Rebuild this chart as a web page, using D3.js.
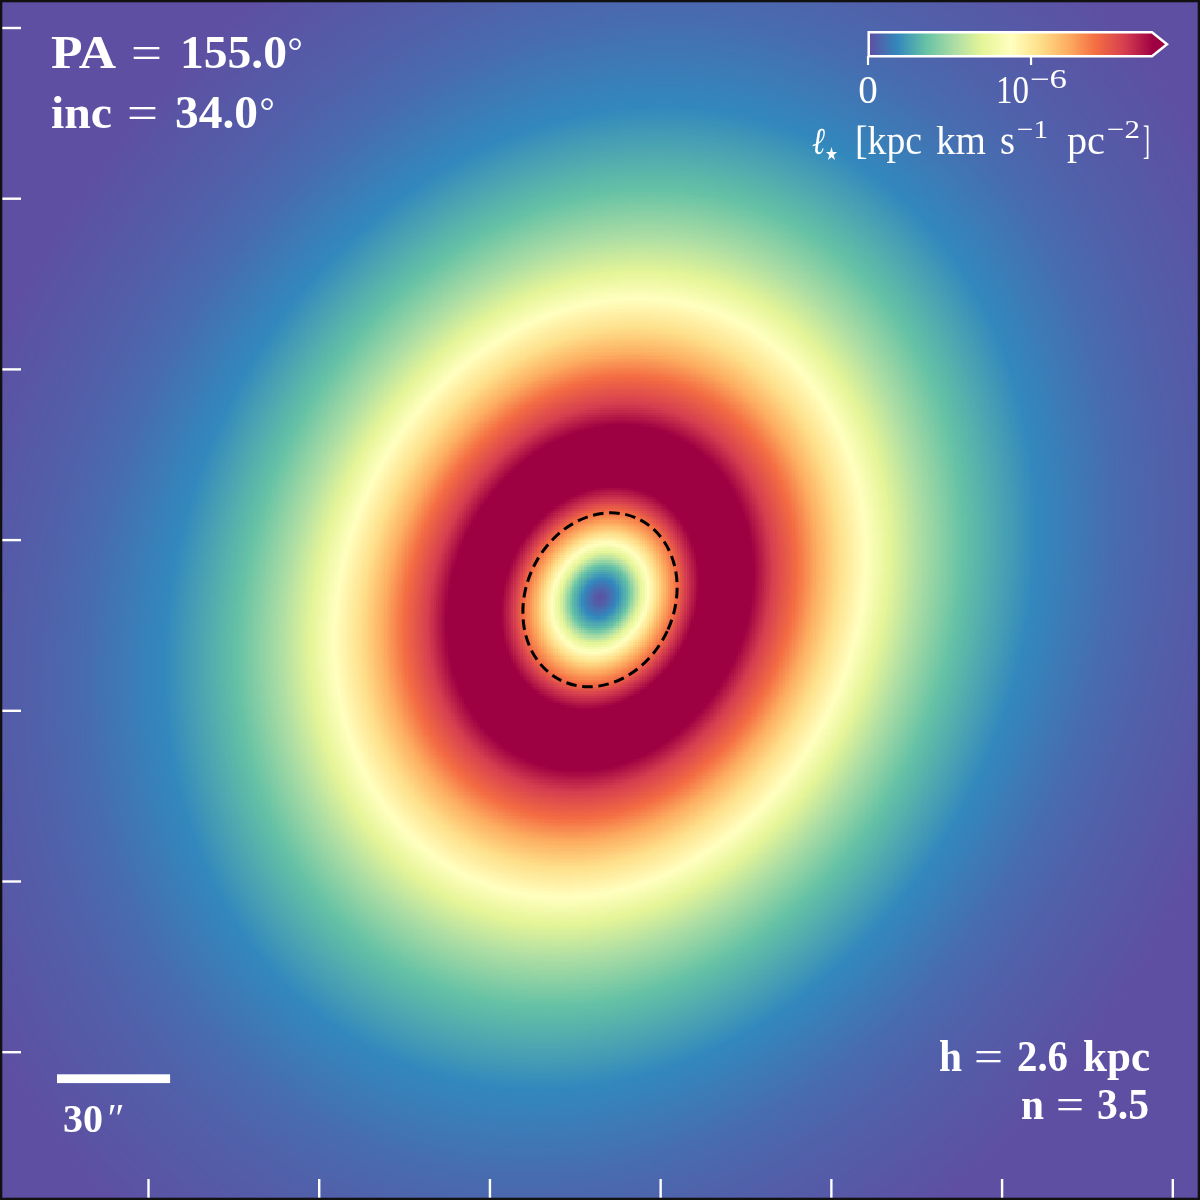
<!DOCTYPE html>
<html><head><meta charset="utf-8">
<script src="https://cdn.jsdelivr.net/npm/d3@7"></script>
<style>
html,body{margin:0;padding:0;background:#fff}
#wrap{position:relative;width:1200px;height:1200px;overflow:hidden}
canvas{position:absolute;left:0;top:0;width:1200px;height:1200px;image-rendering:pixelated}
svg{position:absolute;left:0;top:0}
text{font-family:"Liberation Serif",serif;fill:#fff}
</style></head><body><div id="wrap"><canvas id="map" width="512" height="512"></canvas><svg id="chart" width="1200" height="1200"></svg></div>
<script>
// --- data ---
const paDeg = 155.0, incDeg = 34.0;
// elliptical radius along the major axis (arcsec)
const profileRadius = [0,2.1,5.3,8.8,10.6,12.5,14.9,17.5,20.2,23.6,26.5,30.5,38.5,47.2,53.0,60.5,66.8,73.7,81.7,88.9,98.7,111.4,134.2,158.6,174,209.5];
// stellar angular momentum surface density (1e-6 kpc km/s/pc^2)
const profileValue = [0,0.052,0.174,0.348,0.523,0.697,0.871,1.045,1.219,1.394,1.568,1.742,1.82,1.742,1.568,1.394,1.219,1.045,0.871,0.697,0.523,0.348,0.174,0.087,0.052,0];
const cbarMax = 1.742;           // colour scale top (1e-6)
const cbarTickValues = [0,1];    // 0 and 10^-6
const ellipseRadius = 23.74;     // dashed ellipse major semi-axis (arcsec)
const ellipseOffsetY = -0.5;     // dashed ellipse centre offset (arcsec)
const scaleBarArcsec = 30;
const xTickValues = [0,1,2,3,4,5,6];
const yTickValues = [0,1,2,3,4,5,6];

// --- scales ---
const W = 1200, H = 1200;
const xPx = d3.scaleLinear().domain([-159.15,159.15]).range([0,W]);
const yPx = d3.scaleLinear().domain([158.6,-159.7]).range([0,H]);
const pxPerArcsec = W/318.3;
const profile = d3.scaleLinear().domain(profileRadius).range(profileValue).clamp(true);
const spectralR = d3.schemeSpectral[11].slice().reverse();
const color = d3.scaleLinear().domain(spectralR.map((_,i)=>cbarMax*i/10)).range(spectralR).clamp(true);
const xTick = d3.scaleLinear().domain([0,6]).range([148,1172.3]);
const yTick = d3.scaleLinear().domain([0,6]).range([27.5,1051.7]);
const cbarX = d3.scaleLinear().domain([0,cbarMax]).range([868,1152]);

// --- heat map ---
const theta = (180-paDeg)*Math.PI/180, q = Math.cos(incDeg*Math.PI/180);
const cv = document.getElementById('map'), ctx = cv.getContext('2d');
const N = cv.width, cell = W/N;
for(let j=0;j<N;j++)for(let i=0;i<N;i++){
  const dx=((i+.5)*cell-xPx(0))/pxPerArcsec, dy=((j+.5)*cell-yPx(0))/pxPerArcsec;
  const u=dx*Math.sin(theta)-dy*Math.cos(theta), v=dx*Math.cos(theta)+dy*Math.sin(theta);
  ctx.fillStyle=color(profile(Math.hypot(u,v/q)));
  ctx.fillRect(i,j,1,1);
}

const svg = d3.select('#chart');

// dashed ellipse
svg.append('ellipse')
  .attr('transform',`translate(${xPx(0)},${yPx(ellipseOffsetY)}) rotate(${180-paDeg})`)
  .attr('rx',ellipseRadius*pxPerArcsec*q).attr('ry',ellipseRadius*pxPerArcsec)
  .attr('fill','none').attr('stroke','#000').attr('stroke-width',3).attr('stroke-dasharray','10.5 5.7');

// ticks (inward, white, no labels)
const axB = svg.append('g').attr('transform',`translate(0,${H-2})`)
  .call(d3.axisBottom(xTick).tickValues(xTickValues).tickSize(-19).tickFormat(''));
const axL = svg.append('g').attr('transform','translate(2,0)')
  .call(d3.axisLeft(yTick).tickValues(yTickValues).tickSize(-19).tickFormat(''));
[axB,axL].forEach(a=>{a.select('.domain').remove();a.selectAll('line').attr('stroke','#fff').attr('stroke-width',2.4);});

// frame
svg.append('rect').attr('x',1.15).attr('y',1.15).attr('width',W-2.3).attr('height',H-2.3)
  .attr('fill','none').attr('stroke','#111').attr('stroke-width',2.3);

// text helper
function T(s,x,y,size,len,opt={}){
  const t=svg.append('text').attr('x',x).attr('y',y).attr('font-size',size)
    .attr('font-weight',opt.bold?'bold':'normal').attr('font-style',opt.italic?'italic':'normal').text(s);
  if(opt.anchor)t.attr('text-anchor',opt.anchor);
  if(opt.family)t.style('font-family',opt.family);
  if(len)t.attr('textLength',len).attr('lengthAdjust','spacingAndGlyphs');
  return t;
}
const B={bold:true};
// annotations
T('PA',51,68,46,65,B); T('=',131,68,46,31); T('155.0',180,68,46,107,B); T('°',287.5,64,38);
T('inc',51,128,46,61,B); T('=',127,128,46,31); T('34.0',175,128,46,83,B); T('°',259.5,124,38);
T('h',939,1071,44,23,B); T('=',974,1071,44,29); T('2.6',1017,1071,44,51,B); T('kpc',1083,1071,44,67,B);
T('n',1021,1119,44,23,B); T('=',1056,1119,44,28); T('3.5',1097,1119,44,52,B);

// scale bar
svg.append('rect').attr('x',57).attr('y',1074.3).attr('width',scaleBarArcsec*pxPerArcsec).attr('height',8.8).attr('fill','#fff');
T('30',63,1132,40,40,B);
T('″',105,1131,40,17,{italic:true});

// colour bar
const cbG = svg.append('g');
const cbTop=32.2, cbBot=56.2, cbMid=(cbTop+cbBot)/2;
cbG.selectAll('rect').data(d3.range(0,cbarMax,cbarMax/142)).join('rect')
  .attr('x',d=>cbarX(d)).attr('y',cbTop).attr('width',2.6).attr('height',cbBot-cbTop)
  .attr('fill',d=>color(d));
cbG.append('path').attr('d',`M${cbarX(cbarMax)},${cbTop} L1167,${cbMid} L${cbarX(cbarMax)},${cbBot} Z`).attr('fill',color(cbarMax));
cbG.append('path')
  .attr('d',`M868.7,${cbBot} L868.7,${cbTop} L${cbarX(cbarMax)},${cbTop} L1167,${cbMid} L${cbarX(cbarMax)},${cbBot} Z`)
  .attr('fill','none').attr('stroke','#fff').attr('stroke-width',2.5);
cbG.selectAll('line').data(cbarTickValues).join('line')
  .attr('x1',d=>cbarX(d)).attr('x2',d=>cbarX(d)).attr('y1',cbBot).attr('y2',65)
  .attr('stroke','#fff').attr('stroke-width',2.2);
T('0',cbarX(0),103,39,null,{anchor:'middle'});
T('10',996,103,39,33);
T('−6',1030,88,27,37);

// colour bar label
T('ℓ',812,154,38,13,{italic:true});
T('★',825,160,18,13,{family:'"DejaVu Sans"'});
T('[kpc',855,154,40,67);
T('km',936,154,40,50);
T('s',1000,154,40,15);
T('−1',1017,138,26,31);
T('pc',1067,154,40,38);
T('−2',1107,138,26,33);
T(']',1143,154,40,7);
</script></body></html>
